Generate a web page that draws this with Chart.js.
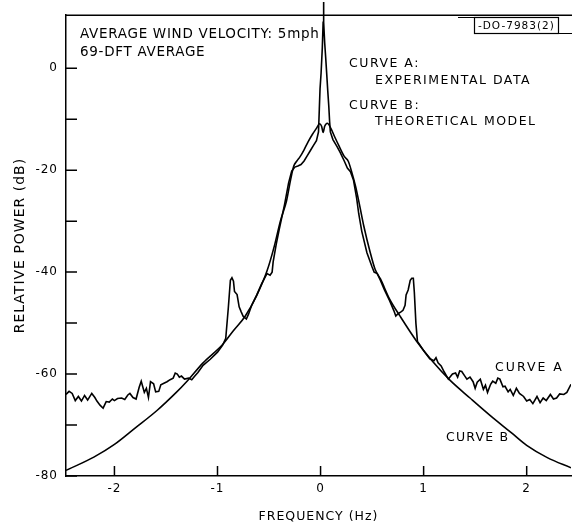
<!DOCTYPE html>
<html>
<head>
<meta charset="utf-8">
<script src="https://cdn.jsdelivr.net/npm/chart.js@4.4.0/dist/chart.umd.min.js"></script>
<style>
  body { margin: 0; background: #fff; }
  #wrap { width: 572px; height: 525px; }
</style>
</head>
<body>
<div id="wrap"><canvas id="powerChart"></canvas></div>
<script>
// curve A: experimental data (Hz, dB)
const curveAFreq = [
  -2.47, -2.44, -2.41, -2.38, -2.35, -2.32, -2.29, -2.26, -2.22, -2.19, -2.17, -2.14, -2.11, -2.08, -2.05, -2.02,
  -2.0, -1.97, -1.93, -1.9, -1.87, -1.85, -1.82, -1.79, -1.76, -1.74, -1.71, -1.69, -1.67, -1.65, -1.62, -1.6,
  -1.57, -1.55, -1.52, -1.49, -1.46, -1.43, -1.41, -1.39, -1.37, -1.35, -1.32, -1.28, -1.25, -1.22, -1.19, -1.14,
  -1.07, -1.0, -0.95, -0.92, -0.895, -0.875, -0.86, -0.845, -0.835, -0.81, -0.79, -0.77, -0.75, -0.72, -0.7, -0.67,
  -0.62, -0.57, -0.52, -0.49, -0.47, -0.46, -0.43, -0.4, -0.35, -0.31, -0.28, -0.25, -0.22, -0.19, -0.16, -0.13,
  -0.1, -0.07, -0.04, -0.02, -0.012, -0.005, 0.005, 0.017, 0.025, 0.028, 0.032, 0.04, 0.05, 0.06, 0.07, 0.08,
  0.088, 0.095, 0.12, 0.16, 0.19, 0.23, 0.26, 0.29, 0.32, 0.35, 0.37, 0.4, 0.45, 0.5, 0.52, 0.55,
  0.58, 0.62, 0.67, 0.71, 0.73, 0.75, 0.78, 0.8, 0.82, 0.83, 0.85, 0.87, 0.885, 0.9, 0.91, 0.925,
  0.94, 0.97, 1.0, 1.03, 1.06, 1.1, 1.12, 1.14, 1.17, 1.2, 1.24, 1.26, 1.28, 1.31, 1.33, 1.35,
  1.37, 1.4, 1.42, 1.45, 1.48, 1.5, 1.52, 1.55, 1.58, 1.6, 1.62, 1.65, 1.67, 1.7, 1.72, 1.74,
  1.77, 1.79, 1.82, 1.84, 1.87, 1.9, 1.93, 1.97, 2.0, 2.03, 2.06, 2.1, 2.13, 2.16, 2.19, 2.23,
  2.26, 2.29, 2.32, 2.36, 2.39, 2.43
];
const curveAPower = [
  -64, -63.4, -63.8, -65.2, -64.4, -65.3, -64.2, -65.1, -63.8, -64.6, -65.3, -66.1, -66.7, -65.4, -65.5, -64.9,
  -65.2, -64.8, -64.7, -65, -64.1, -63.8, -64.6, -64.9, -62.6, -61.4, -63.6, -62.8, -64.6, -61.5, -61.9, -63.5,
  -63.4, -62.1, -61.8, -61.5, -61.1, -60.8, -59.8, -60, -60.6, -60.4, -61, -60.8, -61.1, -60.4, -59.7, -58.3,
  -57.1, -55.7, -54.3, -53, -47, -41.6, -41.1, -41.8, -43.8, -44.4, -46.8, -47.8, -48.7, -49.2, -48.3, -46.6,
  -44.5, -42.2, -40.3, -40.6, -40, -38, -34.5, -31.5, -26.8, -22.5, -20.2, -19.4, -19.2, -18.9, -18.2, -17.2,
  -16.2, -15.2, -14.2, -12.5, -8, -4, -1, 4, 9, 13, 9, 5, 2, -1.2, -4.5, -7.5,
  -10.5, -12.5, -14, -15.4, -16.5, -18.2, -19.6, -20.3, -22, -25.5, -28.5, -32, -36.2, -39, -40, -40.3,
  -41.6, -43.5, -45.6, -47.5, -48.6, -48.2, -47.8, -47.5, -46.5, -44.5, -43.5, -41.6, -41.2, -41.2, -44, -50,
  -53.6, -54.5, -55.4, -56.2, -57, -57.4, -56.8, -57.8, -58.4, -59.6, -61, -60.5, -60, -59.8, -60.6, -59.4,
  -59.5, -60.4, -61, -60.6, -61.5, -62.8, -61.6, -61, -63, -62.2, -63.6, -62, -61.4, -61.8, -60.8, -61,
  -62.5, -62.4, -63.5, -63, -64.2, -62.8, -63.8, -64.4, -65.3, -65, -65.8, -64.4, -65.6, -64.7, -65.2, -64,
  -64.9, -64.7, -63.9, -64, -63.6, -62
];

// curve B: theoretical model
const curveBFreq = [
  -2.47, -2.2, -2.0, -1.8, -1.59, -1.4, -1.3, -1.14, -0.95, -0.85, -0.73, -0.62, -0.52, -0.45, -0.39, -0.33,
  -0.29, -0.26, -0.23, -0.2, -0.16, -0.12, -0.08, -0.04, -0.01, 0.01, 0.025, 0.04, 0.065, 0.1, 0.14, 0.18,
  0.23, 0.27, 0.3, 0.34, 0.38, 0.42, 0.48, 0.53, 0.58, 0.67, 0.77, 0.93, 1.09, 1.26, 1.45, 1.65,
  1.85, 2.0, 2.2, 2.43
];
const curveBPower = [
  -78.9, -76.3, -73.8, -70.6, -67.2, -63.6, -61.5, -57.8, -54.2, -51.6, -48.6, -44.6, -39.8, -35, -30, -26,
  -21.8, -19.2, -18.2, -17.4, -16, -14.4, -13, -11.8, -10.9, -11.4, -12.6, -11.4, -10.8, -11.8, -13.6, -15.3,
  -17.3, -18.3, -20.2, -23.2, -27, -31, -36, -39.5, -41.3, -45.3, -48.6, -53.5, -57.6, -61.3, -64.7, -68.2,
  -71.5, -74, -76.4, -78.4
];

const xTickValues = [-2, -1, 0, 1, 2];
const yTickValues = [-80, -70, -60, -50, -40, -30, -20, -10, 0];
const yLabelValues = [-80, -60, -40, -20, 0];

const FONT = '"DejaVu Sans", sans-serif';

// text written on the plot
const notes = [
  { text: 'AVERAGE WIND VELOCITY: 5mph', x: 80, y: 34, size: 13.5, spacing: 0.7 },
  { text: '69-DFT AVERAGE', x: 80, y: 52, size: 13.5, spacing: 0.7 },
  { text: 'CURVE A:', x: 349, y: 64, size: 12.5, spacing: 1.5 },
  { text: 'EXPERIMENTAL DATA', x: 375, y: 81, size: 12.5, spacing: 1.5 },
  { text: 'CURVE B:', x: 349, y: 106, size: 12.5, spacing: 1.5 },
  { text: 'THEORETICAL MODEL', x: 375, y: 122, size: 12.5, spacing: 1.5 },
  { text: 'CURVE A', x: 495, y: 368, size: 12.5, spacing: 2 },
  { text: 'CURVE B', x: 446, y: 438, size: 12.5, spacing: 1.2 },
  { text: '-DO-7983(2)', x: 478, y: 26, size: 10.5, spacing: 1 }
];

// wider lettering for the library's own axis text
const letterSpacing = {
  id: 'letterSpacing',
  beforeDraw(chart) { chart.ctx.letterSpacing = '1px'; },
  afterDraw(chart) { chart.ctx.letterSpacing = '0px'; }
};

// inward ticks, top frame line, stamp box and notes
const frameAndNotes = {
  id: 'frameAndNotes',
  afterDraw(chart) {
    const { ctx, chartArea: area, scales: { x, y } } = chart;
    ctx.save();
    ctx.strokeStyle = '#000';
    ctx.lineWidth = 1.5;
    ctx.beginPath();
    ctx.moveTo(area.left, area.top);
    ctx.lineTo(chart.width, area.top);
    yTickValues.forEach(v => {
      const py = y.getPixelForValue(v);
      ctx.moveTo(area.left, py);
      ctx.lineTo(area.left + 11, py);
    });
    xTickValues.forEach(v => {
      const px = x.getPixelForValue(v);
      ctx.moveTo(px, area.bottom);
      ctx.lineTo(px, area.bottom - 10);
    });
    ctx.stroke();

    // stamp box
    ctx.lineWidth = 1.2;
    ctx.strokeRect(474.5, 17.5, 84, 16);
    ctx.beginPath();
    ctx.moveTo(458, 17.5);
    ctx.lineTo(474.5, 17.5);
    ctx.moveTo(558.5, 33.5);
    ctx.lineTo(572, 33.5);
    ctx.stroke();

    ctx.fillStyle = '#000';
    ctx.textBaseline = 'middle';
    ctx.textAlign = 'left';
    notes.forEach(n => {
      ctx.font = n.size + 'px ' + FONT;
      ctx.letterSpacing = n.spacing + 'px';
      ctx.fillText(n.text, n.x, n.y);
    });
    ctx.restore();
  }
};

const ctx = document.getElementById('powerChart').getContext('2d');
const powerChart = new Chart(ctx, {
  type: 'line',
  data: {
    datasets: [
      {
        label: 'Curve A',
        data: curveAFreq.map((f, i) => ({ x: f, y: curveAPower[i] })),
        borderColor: '#000',
        borderWidth: 1.6,
        pointRadius: 0,
        tension: 0,
        fill: false,
        // the central spike runs off the top of the frame
        clip: { left: 0, right: 0, bottom: 0, top: false }
      },
      {
        label: 'Curve B',
        data: curveBFreq.map((f, i) => ({ x: f, y: curveBPower[i] })),
        borderColor: '#000',
        borderWidth: 1.6,
        pointRadius: 0,
        cubicInterpolationMode: 'monotone',
        fill: false
      }
    ]
  },
  options: {
    responsive: true,
    maintainAspectRatio: false,
    animation: false,
    layout: { padding: { top: 7, right: 1, left: 0, bottom: 0 } },
    plugins: {
      legend: { display: false },
      tooltip: { enabled: false }
    },
    scales: {
      x: {
        type: 'linear',
        min: -2.47,
        max: 2.43,
        grid: { display: false, drawTicks: false },
        border: { display: true, color: '#000', width: 1.5 },
        afterBuildTicks: scale => { scale.ticks = xTickValues.map(v => ({ value: v })); },
        afterFit: scale => { scale.height = 49; },
        ticks: {
          padding: 6,
          color: '#000',
          font: { family: FONT, size: 12 },
          callback: v => String(v)
        },
        title: {
          display: true,
          text: 'FREQUENCY (Hz)',
          color: '#000',
          font: { family: FONT, size: 12.5 },
          padding: { top: 0, bottom: 1 }
        }
      },
      y: {
        type: 'linear',
        min: -80,
        max: 10.4,
        grid: { display: false, drawTicks: false },
        border: { display: true, color: '#000', width: 1.5 },
        afterBuildTicks: scale => { scale.ticks = yTickValues.map(v => ({ value: v })); },
        afterFit: scale => { scale.width = 66; },
        ticks: {
          padding: 8,
          color: '#000',
          font: { family: FONT, size: 12 },
          callback: v => (yLabelValues.includes(v) ? String(v) : '')
        },
        title: {
          display: true,
          text: 'RELATIVE POWER (dB)',
          color: '#000',
          font: { family: FONT, size: 14 },
          padding: { top: 12, bottom: 0 }
        }
      }
    }
  },
  plugins: [letterSpacing, frameAndNotes]
});
</script>
</body>
</html>
